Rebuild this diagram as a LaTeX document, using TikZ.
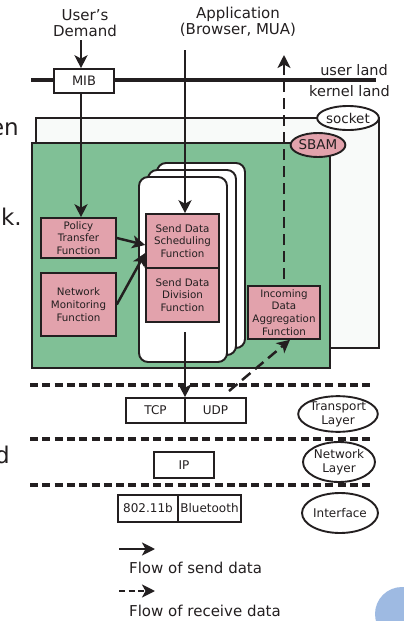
\documentclass[tikz,border=0pt]{standalone}
\usepackage{fontspec}
\setmainfont{DejaVu Sans}
\usetikzlibrary{shapes, arrows.meta, positioning, fit, calc}

\definecolor{sbamgreen}{RGB}{128,192,150}
\definecolor{funcpink}{RGB}{226,162,172}
\definecolor{sockwhite}{RGB}{248,250,249}
\definecolor{dotblue}{RGB}{158,186,226}
\definecolor{ink}{RGB}{35,31,32}
\newcommand{\fs}[2]{\fontsize{#1}{#2}\selectfont}

\begin{document}
\begin{tikzpicture}[x=1pt,y=-1pt,>={Stealth[length=13pt,width=13pt,inset=3.5pt]},
    every node/.style={text=ink},
    func/.style={draw=ink,line width=1.6pt,fill=funcpink,rectangle,align=center,inner sep=0pt,font=\fs{10.3}{12.7}},
    proto/.style={draw=ink,line width=1.6pt,fill=white,rectangle,inner sep=0pt,minimum height=25pt,font=\fs{12}{14}},
    layer/.style={draw=ink,ellipse,line width=1.9pt,fill=white,inner sep=0pt,minimum width=72pt,minimum height=40pt,align=center,font=\fs{12}{14}},
    tag/.style={draw=ink,ellipse,line width=1.9pt,inner sep=0pt,minimum width=53pt,minimum height=24pt,font=\fs{13.5}{15}},
    card/.style={draw=ink,fill=white,line width=1.9pt,rounded corners=9pt},
    flow/.style={->,draw=ink,line width=2.5pt},
    rflow/.style={flow,dash pattern=on 11pt off 6pt},
    layersep/.style={draw=ink,line width=3.2pt,dash pattern=on 8pt off 4.3pt}]
    \useasboundingbox (0,0) rectangle (404,621);

    \node[anchor=east,font=\fs{23}{25},inner sep=0pt] (frag1) at (19,129) {en};
    \node[anchor=east,font=\fs{23}{25},inner sep=0pt] (frag2) at (22,217) {nk.};
    \node[anchor=east,font=\fs{23}{25},inner sep=0pt] (frag3) at (10,455) {d};

    \node[font=\fs{15}{16},align=center] (demand) at (85,23) {User’s\\Demand};
    \node[font=\fs{15}{16},align=center] (app) at (238,22) {Application\\(Browser, MUA)};

    \draw[ink,line width=3.3pt] (31,80) -- (376,80);
    \node[proto,minimum width=60pt,minimum height=24pt,font=\fs{13}{15}] (mib) at (84,81) {MIB};
    \node[anchor=east,inner sep=0pt,font=\fs{14.5}{16}] (uland) at (388,70) {user land};
    \node[anchor=east,inner sep=0pt,font=\fs{14.5}{16}] (kland) at (390,91) {kernel land};

    \draw[draw=ink,line width=2pt,fill=sockwhite] (36,118) rectangle (379,348);
    \node[tag,fill=white] (socket) at (348,118) {socket};
    \draw[draw=ink,line width=2.2pt,fill=sbamgreen] (32,143) rectangle (330,368);
    \node[tag,fill=funcpink] (sbam) at (318,145) {SBAM};

    \foreach \k in {2,1,0}
      \draw[card] (139+9*\k,177-7*\k) rectangle ++(88,185);

    \node[func,minimum width=73pt,minimum height=54pt] (sched) at (182.5,241) {Send Data\\Scheduling\\Function};
    \node[func,minimum width=73pt,minimum height=54pt] (divide) at (182.5,295) {Send Data\\Division\\Function};
    \node[func,minimum width=75pt,minimum height=40pt] (policy) at (78.5,238) {Policy\\Transfer\\Function};
    \node[func,minimum width=75pt,minimum height=63pt] (netmon) at (78.5,304.5) {Network\\Monitoring\\Function};
    \node[func,minimum width=72pt,minimum height=53pt] (incoming) at (284,312.5) {Incoming\\Data\\Aggregation\\Function};

    \foreach \y in {385,439,485}
      \draw[layersep] (30,\y) -- (373,\y);

    \node[proto,minimum width=59pt] (tcp) at (155.5,410.5) {TCP};
    \node[proto,minimum width=61pt] (udp) at (215.5,410.5) {UDP};
    \node[proto,minimum width=60pt,minimum height=26pt] (ip) at (184,465) {IP};
    \node[proto,minimum width=60pt,minimum height=27pt] (wlan) at (148,508.5) {802.11b};
    \node[proto,minimum width=63pt,minimum height=27pt] (bt) at (209.5,508.5) {Bluetooth};

    \node[layer,minimum width=70pt,minimum height=34pt] (trans) at (338,414) {Transport\\Layer};
    \node[layer] (net) at (339,462) {Network\\Layer};
    \node[layer,minimum width=74pt] (iface) at (340,513) {Interface};

    % send side
    \draw[flow] ([xshift=-4pt]demand.south) -- ([xshift=-3pt]mib.north);
    \draw[flow] ([xshift=-3pt]mib.south) -- ([xshift=-3pt]mib.south |- policy.north);
    \coordinate (appin) at (185,50);
    \draw[flow] (appin) -- (appin |- sched.north);
    \draw[flow] (policy.east) -- ([yshift=-4pt]sched.west);
    \draw[flow] (netmon.east) -- ([yshift=-12pt]sched.west);
    \coordinate (sendout) at (185,332);
    \draw[flow] (sendout) -- (sendout |- tcp.north);

    % receive side
    \coordinate (rcvin) at (229,391);
    \draw[rflow] (rcvin) -- ([xshift=6pt]incoming.south);
    \coordinate (rcvout) at (284,55);
    \draw[rflow] ([yshift=6pt]incoming.north) -- (rcvout);

    \coordinate (lsa) at (119,549);
    \coordinate (lsb) at (155,549);
    \draw[flow] (lsa) -- (lsb);
    \node[anchor=west,inner sep=0pt,font=\fs{15}{16}] (lsend) at (129,568) {Flow of send data};
    \coordinate (lra) at (119,591);
    \coordinate (lrb) at (155,591);
    \draw[flow,dash pattern=on 6pt off 3.5pt] (lra) -- (lrb);
    \node[anchor=west,inner sep=0pt,font=\fs{15}{16}] (lrecv) at (129,611) {Flow of receive data};

    \fill[dotblue] (402,614) circle (27pt);
\end{tikzpicture}
\end{document}
